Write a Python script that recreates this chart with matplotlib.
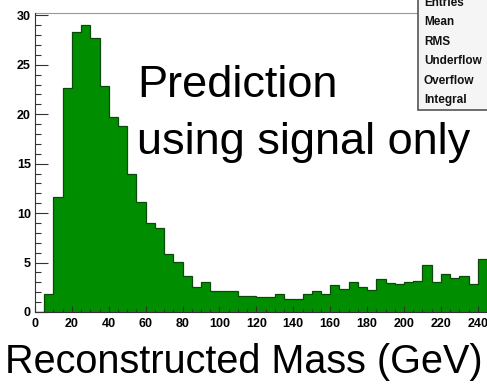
import numpy as np
import matplotlib.pyplot as plt
from matplotlib.patches import Rectangle

# reconstructed mass histogram, 5 GeV bins from 0 to 245
bin_edges = np.arange(0, 250, 5)
counts = [
    0.0, 1.8, 11.6, 22.6, 28.3, 29.0, 27.7, 22.9, 19.7, 18.8,
    14.0, 11.1, 9.0, 8.45, 5.9, 5.1, 3.6, 2.5, 3.0, 2.15,
    2.15, 2.15, 1.6, 1.6, 1.5, 1.5, 1.8, 1.3, 1.3, 1.8,
    2.15, 1.8, 2.7, 2.3, 3.0, 2.55, 2.2, 3.3, 2.9, 2.85,
    3.05, 3.15, 4.75, 3.05, 3.8, 3.4, 3.65, 2.8, 5.4,
]
x_ticks = list(range(0, 241, 20))
y_ticks = list(range(0, 31, 5))
stat_names = ["Entries", "Mean", "RMS", "Underflow", "Overflow", "Integral"]

W, H = 487, 386
fig = plt.figure(figsize=(W / 100, H / 100), dpi=100)
fig.patch.set_facecolor("white")

ax = fig.add_axes([35 / W, 1 - 312 / H, 452 / W, (312 - 13.3) / H])
ax.stairs(counts, bin_edges, fill=True, color="#008e00", zorder=2)
ax.stairs(counts, bin_edges, color="#0b4a0b", lw=0.9, zorder=3)

ax.set_xlim(0, 245)
ax.set_ylim(0, 30.2)
ax.set_xticks(x_ticks)
ax.set_yticks(y_ticks)
ax.set_xticks(np.arange(0, 246, 5), minor=True)
ax.set_yticks(np.arange(0, 31, 1), minor=True)
ax.tick_params(which="both", direction="in", color="#333333", width=0.8)
ax.tick_params(which="major", length=9, labelsize=9, pad=3)
ax.tick_params(which="minor", length=4.5)
ax.tick_params(axis="x", which="both", length=4, pad=4)
ax.tick_params(axis="x", which="minor", length=2.5)
for lbl in ax.get_xticklabels() + ax.get_yticklabels():
    lbl.set_fontweight("bold")
    lbl.set_family("Liberation Sans")
ax.set_axisbelow(False)
for side in ["left", "bottom"]:
    ax.spines[side].set_color("#333333")
    ax.spines[side].set_zorder(4)
ax.spines["top"].set_color("#999999")
ax.spines["right"].set_visible(False)

for txt, base_y in [("Prediction", 97), ("using signal only", 154)]:
    fig.text(137 / W, 1 - base_y / H, txt, fontsize=32.5,
             family="Liberation Sans", va="baseline", ha="left")

fig.text(0.5, 1 - 362 / H, "Reconstructed Mass (GeV)", fontsize=28.5,
         family="Liberation Sans", ha="center", va="center")

# statistics box in the upper right corner
fig.patches.append(Rectangle((418 / W, 1 - 110 / H), 80 / W, 120 / H,
                             transform=fig.transFigure, facecolor="#f5f5f5",
                             edgecolor="#555555", lw=1.2, zorder=5))
for i, name in enumerate(stat_names):
    fig.text(424 / W, 1 - (3 + 19.4 * i) / H, name, fontsize=8.5,
             fontweight="bold", family="Liberation Sans",
             va="center", ha="left", color="#111111", zorder=6)

fig.savefig("out.png", dpi=100)
